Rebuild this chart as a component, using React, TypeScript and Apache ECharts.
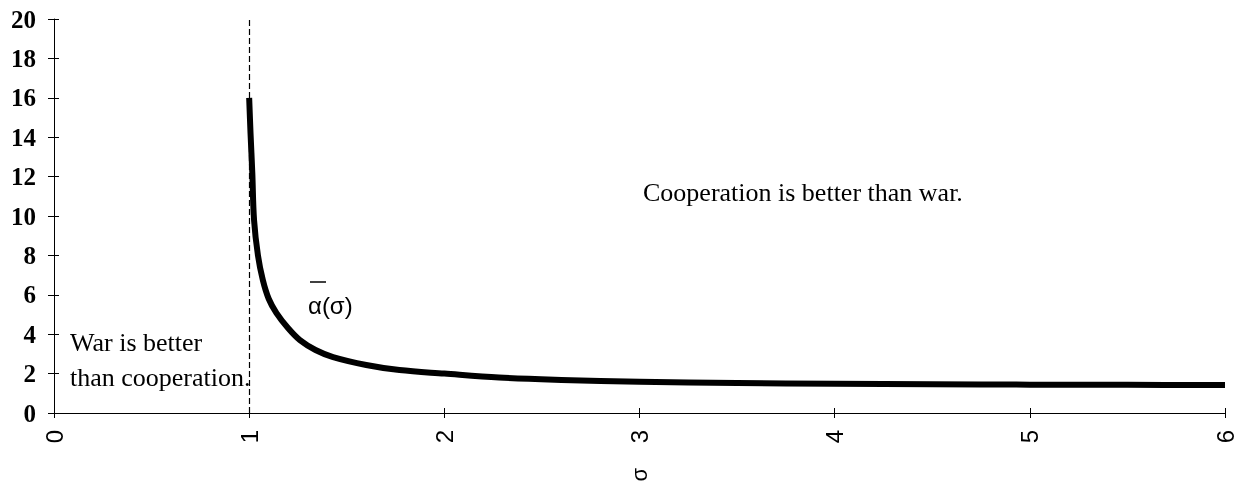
import React, { useEffect, useRef } from "react";
import * as echarts from "echarts";

const sigma = [1.0, 1.007, 1.016, 1.025, 1.045, 1.07, 1.1, 1.14, 1.2, 1.26, 1.34, 1.43, 1.6, 1.77, 2.0, 2.28, 2.6, 3.0, 3.5, 4.0, 4.5, 5.0, 5.5, 6.0];
const alpha = [16, 14.2, 12.2, 9.8, 8.0, 6.75, 5.8, 5.07, 4.3, 3.7, 3.2, 2.84, 2.44, 2.18, 2.0, 1.8, 1.68, 1.58, 1.52, 1.48, 1.46, 1.44, 1.43, 1.42];
const threshold = [1];
const xRange = [0, 6, 1];
const yRange = [0, 20, 2];

export default function App() {
  const ref = useRef<HTMLDivElement>(null);
  useEffect(() => {
    const chart = echarts.init(ref.current!, null, { renderer: "svg" });
    const black = "#000";
    const baseX = { type: "value", min: xRange[0], max: xRange[1], interval: xRange[2], splitLine: { show: false } };
    const baseY = { type: "value", min: yRange[0], max: yRange[1], interval: yRange[2], splitLine: { show: false } };
    chart.setOption({
      animation: false,
      grid: { left: 54, right: 16, top: 19, bottom: 75, containLabel: false },
      xAxis: [
        {
          ...baseX,
          position: "bottom",
          axisLine: { show: true, onZero: false, lineStyle: { color: black, width: 1 } },
          axisTick: { show: true, length: 5, lineStyle: { color: black } },
          axisLabel: { rotate: 90, fontSize: 24, fontFamily: "Liberation Sans", color: black, margin: 17, showMinLabel: true, showMaxLabel: true },
          name: "σ",
          nameLocation: "middle",
          nameGap: 55,
          nameRotate: 90,
          nameTextStyle: { fontSize: 22, fontFamily: "Liberation Sans", color: black },
        },
        {
          ...baseX,
          position: "bottom",
          axisLine: { show: false },
          axisTick: { show: true, inside: true, length: 5, lineStyle: { color: black } },
          axisLabel: { show: false },
        },
      ],
      yAxis: [
        {
          ...baseY,
          position: "left",
          axisLine: { show: true, onZero: false, lineStyle: { color: black, width: 1 } },
          axisTick: { show: true, length: 6, lineStyle: { color: black } },
          axisLabel: { fontSize: 25, fontWeight: "bold", fontFamily: "Liberation Serif", color: black, margin: 18 },
        },
        {
          ...baseY,
          position: "left",
          axisLine: { show: false },
          axisTick: { show: true, inside: true, length: 5, lineStyle: { color: black } },
          axisLabel: { show: false },
        },
      ],
      series: [
        {
          type: "line",
          xAxisIndex: 0,
          yAxisIndex: 0,
          data: sigma.map((s, i) => [s, alpha[i]]),
          smooth: 0.35,
          symbol: "none",
          lineStyle: { color: black, width: 6, join: "round" },
          markLine: {
            silent: true,
            symbol: ["none", "none"],
            label: { show: false },
            lineStyle: { color: black, width: 1.2, type: [6, 3] },
            data: threshold.map((v) => ({ xAxis: v })),
          },
        },
      ],
      graphic: [
        { type: "text", x: 643, y: 192, style: { text: "Cooperation is better than war.", font: "26px 'Liberation Serif'", fill: black, verticalAlign: "middle" } },
        { type: "text", x: 70, y: 342, style: { text: "War is better", font: "26px 'Liberation Serif'", fill: black, verticalAlign: "middle" } },
        { type: "text", x: 70, y: 377, style: { text: "than cooperation.", font: "26px 'Liberation Serif'", fill: black, verticalAlign: "middle" } },
        { type: "text", x: 308, y: 305, style: { text: "α(σ)", font: "24px 'Liberation Sans'", fill: black, verticalAlign: "middle" } },
        { type: "line", shape: { x1: 310, y1: 282, x2: 326, y2: 282 }, style: { stroke: black, lineWidth: 1.5 } },
      ],
    });
    return () => chart.dispose();
  }, []);
  return <div ref={ref} style={{ position: "fixed", left: 0, top: 0, width: 1241, height: 488 }} />;
}
